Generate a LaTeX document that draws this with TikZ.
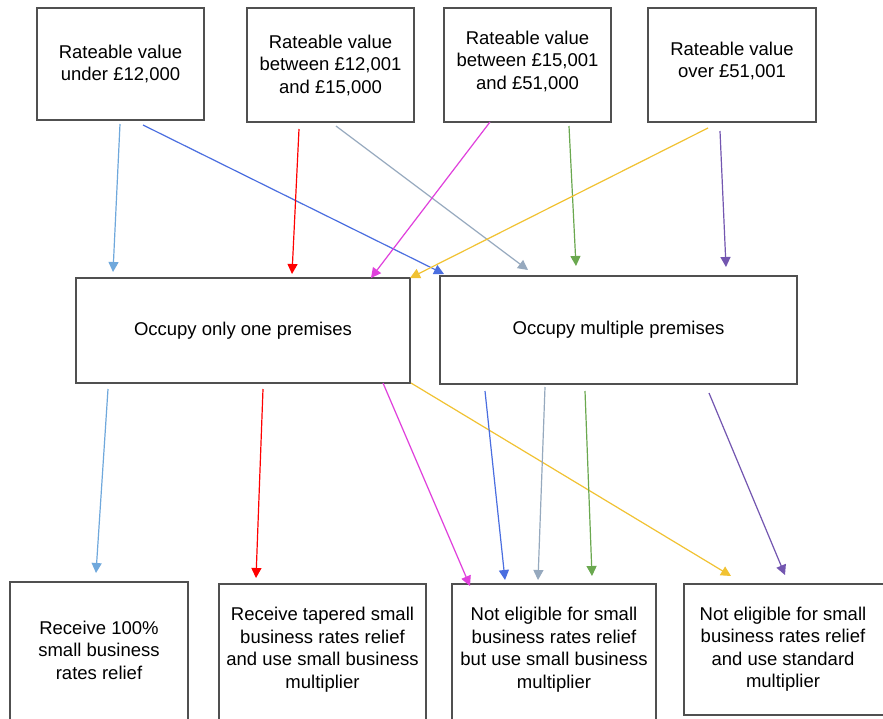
\documentclass[tikz,border=0pt]{standalone}
\usepackage{fontspec}
\setmainfont{Liberation Sans}
\usetikzlibrary{arrows.meta}
\definecolor{boxgray}{HTML}{505050}
\definecolor{cLB}{HTML}{6FA8DC}
\definecolor{cBL}{HTML}{4A6EE0}
\definecolor{cRD}{HTML}{FF0000}
\definecolor{cGB}{HTML}{96A9BE}
\definecolor{cMG}{HTML}{E040DC}
\definecolor{cGR}{HTML}{6AA84F}
\definecolor{cYL}{HTML}{F1C232}
\definecolor{cPU}{HTML}{7356B0}
\begin{document}
\begin{tikzpicture}[x=1pt,y=-1pt,
  box/.style={draw=boxgray, line width=1.6pt, fill=white, align=center, inner sep=0pt,
    font=\fontsize{18.5}{22.5}\selectfont},
  txt/.style={align=center, inner sep=0pt, font=\fontsize{18.5}{22.5}\selectfont},
  arr/.style={line width=1.2pt, -{Triangle[length=10pt,width=10pt]}}]
\useasboundingbox (0,0) rectangle (883,718);
\clip (0,0) rectangle (883,718);
\fill[white] (0,0) rectangle (883,718);

% top boxes
\node[box, minimum width=167pt, minimum height=112pt] (T1) at (120.5,64) {Rateable value\\under £12,000};
\node[box, minimum width=167pt, minimum height=114pt] (T2) at (330.5,65) {Rateable value\\between £12,001\\and £15,000};
\node[box, minimum width=167pt, minimum height=114pt] (T3) at (527.5,65) {};
\node[txt] (T3t) at (527.5,61) {Rateable value\\between £15,001\\and £51,000};
\node[box, minimum width=168pt, minimum height=114pt] (T4) at (732,65) {};
\node[txt] (T4t) at (732,61) {Rateable value\\over £51,001};

% middle boxes
\node[box, minimum width=334pt, minimum height=105pt] (M1) at (243,330.5) {Occupy only one premises};
\node[box, minimum width=357pt, minimum height=108pt] (M2) at (618.5,330) {Occupy multiple premises};

% bottom boxes
\node[box, minimum width=178pt, minimum height=160pt] (B1) at (99,662) {};
\node[txt] (B1t) at (99,650) {Receive 100\%\\small business\\rates relief};
\node[box, minimum width=207pt, minimum height=160pt] (B2) at (322.5,664) {};
\node[txt] (B2t) at (322.5,649.5) {Receive tapered small\\business rates relief\\and use small business\\multiplier};
\node[box, minimum width=204pt, minimum height=160pt] (B3) at (554,664) {};
\node[txt] (B3t) at (554,649.5) {Not eligible for small\\business rates relief\\but use small business\\multiplier};
\node[box, minimum width=230pt, minimum height=131pt] (B4) at (799,649.5) {};
\node[txt] (B4t) at (783,649) {Not eligible for small\\business rates relief\\and use standard\\multiplier};

% arrow end points
\coordinate (a1s) at (120,124); \coordinate (a1e) at (113,272);
\coordinate (a2s) at (143,125); \coordinate (a2e) at (444,274);
\coordinate (a3s) at (299,129); \coordinate (a3e) at (292,274);
\coordinate (a4s) at (336,126); \coordinate (a4e) at (528,270);
\coordinate (a5s) at (490,122); \coordinate (a5e) at (371,278);
\coordinate (a6s) at (569,126); \coordinate (a6e) at (576,266);
\coordinate (a7s) at (708,128); \coordinate (a7e) at (410,278);
\coordinate (a8s) at (720,131); \coordinate (a8e) at (726,267);
\coordinate (b1s) at (108,389); \coordinate (b1e) at (96,573);
\coordinate (b2s) at (263,389); \coordinate (b2e) at (256,578);
\coordinate (b3s) at (383,383); \coordinate (b3e) at (470,586);
\coordinate (b4s) at (411,383); \coordinate (b4e) at (731,576);
\coordinate (b5s) at (485,391); \coordinate (b5e) at (505,580);
\coordinate (b6s) at (545,387); \coordinate (b6e) at (538,580);
\coordinate (b7s) at (585,391); \coordinate (b7e) at (592,576);
\coordinate (b8s) at (709,393); \coordinate (b8e) at (785,575);

% arrows top -> middle
\draw[arr, cLB] (a1s) -- (a1e);
\draw[arr, cBL] (a2s) -- (a2e);
\draw[arr, cRD] (a3s) -- (a3e);
\draw[arr, cGB] (a4s) -- (a4e);
\draw[arr, cMG] (a5s) -- (a5e);
\draw[arr, cGR] (a6s) -- (a6e);
\draw[arr, cYL] (a7s) -- (a7e);
\draw[arr, cPU] (a8s) -- (a8e);
% arrows middle -> bottom
\draw[arr, cLB] (b1s) -- (b1e);
\draw[arr, cRD] (b2s) -- (b2e);
\draw[arr, cMG] (b3s) -- (b3e);
\draw[arr, cYL] (b4s) -- (b4e);
\draw[arr, cBL] (b5s) -- (b5e);
\draw[arr, cGB] (b6s) -- (b6e);
\draw[arr, cGR] (b7s) -- (b7e);
\draw[arr, cPU] (b8s) -- (b8e);
\end{tikzpicture}
\end{document}
